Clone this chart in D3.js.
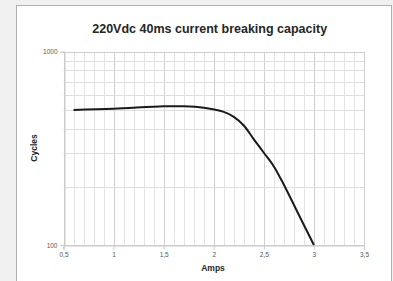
<!DOCTYPE html>
<html><head><meta charset="utf-8">
<script src="https://cdn.jsdelivr.net/npm/d3@7"></script>
<style>html,body{margin:0;padding:0;background:#f0f0f0;}svg{display:block;}</style>
</head><body>
<script>
const title = "220Vdc 40ms current breaking capacity";
const xLabel = "Amps", yLabel = "Cycles";
const amps =   [0.6, 1.0, 1.5, 1.7, 1.9, 2.1, 2.2, 2.3, 2.4, 2.5, 2.6, 2.7, 2.85, 3.0];
const cycles = [500, 507, 522, 522, 513, 488, 460, 415, 352, 300, 255, 205, 143, 100];
const xTicks = [0.5, 1, 1.5, 2, 2.5, 3, 3.5];
const xTickLabels = ["0,5", "1", "1,5", "2", "2,5", "3", "3,5"];
const yTicks = [100, 1000];
const yMinor = [200, 300, 400, 500, 600, 700, 800, 900];

const W = 393, H = 281;
const svg = d3.select("body").append("svg").attr("width", W).attr("height", H);
svg.append("rect").attr("x", 16.5).attr("y", 5.5).attr("width", 375).attr("height", 290)
  .attr("fill", "#fff").attr("stroke", "#b0b0b0");

const x = d3.scaleLinear().domain([0.5, 3.5]).range([63.5, 364]);
const y = d3.scaleLog().domain([100, 1000]).range([245, 51.7]);

const g = svg.append("g");
// minor vertical grid
const xMinor = d3.range(5, 36).map(d => d / 10);
g.selectAll(".vx").data(xMinor).join("line")
  .attr("x1", d => Math.round(x(d)) + 0.5).attr("x2", d => Math.round(x(d)) + 0.5)
  .attr("y1", y(1000)).attr("y2", y(100))
  .attr("stroke", d => (Math.abs(d * 2 - Math.round(d * 2)) < 1e-6) ? "#cfcfcf" : "#e3e3e3")
  .attr("stroke-width", 1);
g.selectAll(".hy").data(yMinor.concat(yTicks)).join("line")
  .attr("x1", x(0.5)).attr("x2", x(3.5))
  .attr("y1", d => Math.round(y(d)) + 0.5).attr("y2", d => Math.round(y(d)) + 0.5)
  .attr("stroke", d => yTicks.includes(d) ? "#cfcfcf" : "#dedede").attr("stroke-width", 1);

// axes
const xAxis = d3.axisBottom(x).tickValues(xTicks).tickFormat((d, i) => xTickLabels[i]).tickSize(4).tickPadding(3);
const gx = svg.append("g").attr("transform", `translate(0,${Math.round(y(100)) + 0.5})`).call(xAxis);
const yAxis = d3.axisLeft(y).tickValues(yTicks).tickFormat(d3.format("d")).tickSize(4).tickPadding(3);
const gy = svg.append("g").attr("transform", `translate(${Math.round(x(0.5)) + 0.5},0)`).call(yAxis);
[gx, gy].forEach(a => {
  a.select(".domain").attr("stroke", "#c8c8c8");
  a.selectAll(".tick line").attr("stroke", "#c8c8c8");
  a.selectAll(".tick text").attr("fill", "#595959").attr("font-family", "Liberation Sans, Arial, sans-serif").attr("font-size", 6.5);
});

// curve
const line = d3.line().x((d, i) => x(amps[i])).y((d, i) => y(cycles[i])).curve(d3.curveCatmullRom.alpha(0.5));
svg.append("path").datum(cycles).attr("d", line).attr("fill", "none")
  .attr("stroke", "#1a1a1a").attr("stroke-width", 2);

// texts
svg.append("text").attr("x", 209.7).attr("y", 33).attr("text-anchor", "middle")
  .attr("font-family", "Liberation Sans, Arial, sans-serif").attr("font-weight", "bold")
  .attr("font-size", 12.5).attr("fill", "#262626").text(title);
svg.append("text").attr("x", 213).attr("y", 271).attr("text-anchor", "middle")
  .attr("font-family", "Liberation Sans, Arial, sans-serif").attr("font-weight", "bold")
  .attr("font-size", 8.5).attr("fill", "#262626").text(xLabel);
svg.append("text").attr("transform", "translate(37,148) rotate(-90)").attr("text-anchor", "middle")
  .attr("font-family", "Liberation Sans, Arial, sans-serif").attr("font-weight", "bold")
  .attr("font-size", 8.5).attr("fill", "#262626").text(yLabel);
</script>
</body></html>
